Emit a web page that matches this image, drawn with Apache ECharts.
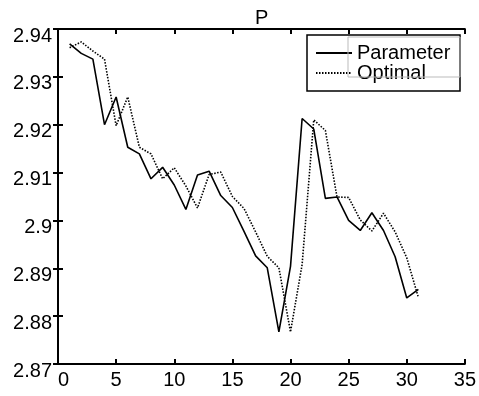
<!DOCTYPE html>
<html>
<head>
<meta charset="utf-8">
<script src="https://cdn.jsdelivr.net/npm/echarts@6/dist/echarts.min.js"></script>
<style>html,body{margin:0;padding:0;background:#fff;}#c{width:479px;height:396px;}</style>
</head>
<body>
<div id="c"></div>
<script>
const xValues = [1,2,3,4,5,6,7,8,9,10,11,12,13,14,15,16,17,18,19,20,21,22,23,24,25,26,27,28,29,30,31];
const parameter = [2.9369,2.9349,2.9337,2.9200,2.9258,2.9153,2.9139,2.9087,2.9111,2.9074,2.9023,2.9095,2.9103,2.9052,2.9027,2.8977,2.8926,2.8901,2.8767,2.8904,2.9213,2.9191,2.9046,2.9049,2.9000,2.8979,2.9016,2.8979,2.8924,2.8838,2.8856];
const optimal = [2.9361,2.9373,2.9354,2.9337,2.9198,2.9258,2.9153,2.9139,2.9087,2.9110,2.9072,2.9026,2.9096,2.9101,2.9050,2.9025,2.8976,2.8925,2.8901,2.8767,2.8908,2.9210,2.9188,2.9049,2.9048,2.9001,2.8978,2.9015,2.8976,2.8922,2.8839];
const seriesNames = ['Parameter','Optimal'];
const titleText = 'P';

const FONT = '"Liberation Sans", Arial, Helvetica, sans-serif';
const chart = echarts.init(document.getElementById('c'), null, {renderer:'canvas'});
const axisLineStyle = {color:'#000', width:2};
const tickCommon = {show:true, inside:true, length:5, lineStyle:{color:'#000', width:2}};
chart.setOption({
  animation:false,
  backgroundColor:'#fff',
  title:{text:titleText, left:250, top:3, textStyle:{fontFamily:FONT, fontSize:20, fontWeight:'normal', color:'#000'}},
  grid:{left:58, right:13, top:29, bottom:32, containLabel:false},
  legend:{
    orient:'vertical', left:307, top:35, padding:[8,6,8,8], itemGap:0,
    itemWidth:36, itemHeight:12, backgroundColor:'#fff',
    itemStyle:{opacity:0},
    textStyle:{fontFamily:FONT, fontSize:20, color:'#000', padding:[0,0,0,0]},
    data:seriesNames
  },
  xAxis:[
    {type:'value', min:0, max:35, interval:5, position:'bottom',
     axisLine:{show:true, lineStyle:axisLineStyle}, axisTick:tickCommon,
     axisLabel:{fontFamily:FONT, fontSize:20, color:'#000', margin:6, alignMinLabel:'left'},
     splitLine:{show:false}},
    {type:'value', min:0, max:35, interval:5, position:'top',
     axisLine:{show:true, lineStyle:axisLineStyle}, axisTick:tickCommon,
     axisLabel:{show:false}, splitLine:{show:false}}
  ],
  yAxis:[
    {type:'value', min:2.87, max:2.94, interval:0.01, position:'left',
     axisLine:{show:true, lineStyle:axisLineStyle}, axisTick:tickCommon,
     axisLabel:{fontFamily:FONT, fontSize:20, color:'#000', margin:6, verticalAlign:'top', lineHeight:14,
       formatter:function(v){return String(parseFloat(v.toFixed(2)));}},
     splitLine:{show:false}},
    {type:'value', min:2.87, max:2.94, interval:0.01, position:'right',
     axisLine:{show:true, lineStyle:axisLineStyle}, axisTick:tickCommon,
     axisLabel:{show:false}, splitLine:{show:false}}
  ],
  graphic:[
    {type:'rect', z:100, shape:{x:307, y:35, width:153, height:56}, style:{fill:'none', stroke:'#000', lineWidth:1.5}},
    {type:'rect', z:100, shape:{x:348, y:37, width:112, height:40}, style:{fill:'none', stroke:'#bbbbbb', lineWidth:1}}
  ],
  series:[
    {name:seriesNames[0], type:'line', symbol:'none', data:xValues.map((x,i)=>[x, parameter[i]]),
     lineStyle:{color:'#000', width:1.6, type:'solid'}, itemStyle:{color:'#000'}},
    {name:seriesNames[1], type:'line', symbol:'none', data:xValues.map((x,i)=>[x, optimal[i]]),
     lineStyle:{color:'#000', width:1.6, type:[1.5,1.5]}, itemStyle:{color:'#000'}}
  ]
});
</script>
</body>
</html>
